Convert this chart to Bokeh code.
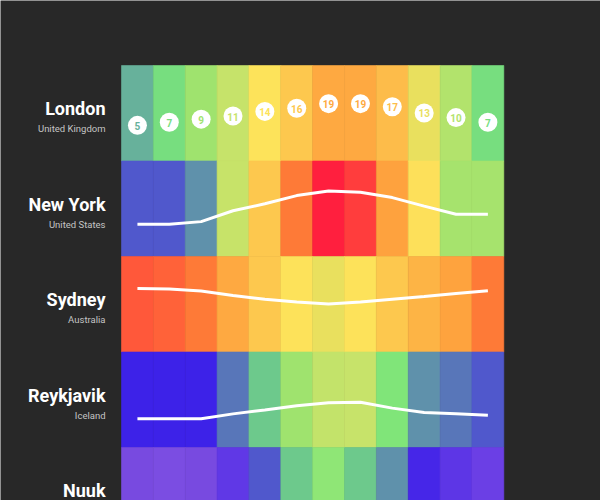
import numpy as np
from bokeh.plotting import figure
from bokeh.models import ColumnDataSource, LinearColorMapper, Range1d
from bokeh.transform import transform
from bokeh.core.properties import value
from bokeh.embed import file_html
from bokeh.resources import INLINE

# ---------------- data ----------------
months = ["Jan", "Feb", "Mar", "Apr", "May", "Jun",
          "Jul", "Aug", "Sep", "Oct", "Nov", "Dec"]
cities = ["London", "New York", "Sydney", "Reykjavik", "Nuuk"]
countries = ["United Kingdom", "United States", "Australia", "Iceland", "Greenland"]

london = [5, 7, 9, 11, 14, 16, 19, 19, 17, 13, 10, 7]
new_york = [2.8, 2.8, 4.5, 11.5, 16, 21.3, 24.3, 23.4, 20, 14.5, 9.3, 9.3]
sydney = [23, 22.6, 21.3, 18.5, 16, 14.2, 13, 14.2, 16, 17.8, 19.8, 21.5]
reykjavik = [0.5, 0.5, 0.5, 3.7, 6.2, 9, 10.8, 11.2, 7.4, 4.6, 3.7, 2.8]
nuuk = [-7.5, -8, -7.6, -4, 2.8, 6.2, 8.2, 6.2, 4.6, -1, -3.5, -6]

series = [london, new_york, sydney, reykjavik, nuuk]

# colour scale anchors (temperature -> colour)
anchor_t = [-8, -7.5, -6, -3.5, -1, 0.5, 2.8, 3.7, 4.6, 5, 6.2, 7.2, 8.2, 9, 10,
            11, 12, 13, 14, 14.6, 16, 17, 17.8, 18.5, 19, 20, 21.3, 21.6, 23, 23.4, 24.3]
anchor_c = ["#7b4de2", "#7749e0", "#6a3ee5", "#5d36e6", "#4626e8", "#3d22e8", "#5059cc",
            "#5878b8", "#5f93aa", "#67b09c", "#6dc98c", "#7be57a", "#8fe676", "#a0e36e",
            "#b2e36c", "#c6e36a", "#c8e369", "#e8e05e", "#fde35a", "#fde05a", "#fdc94e",
            "#fdbd4a", "#fdb545", "#fea941", "#fea941", "#fea23e", "#fe7a37", "#fe7a37",
            "#ff5a3a", "#ff3d3d", "#ff1f3e"]

# ---------------- layout constants ----------------
BG = "#282828"
W, H = 600, 500
GRID_LEFT_PX = 121
COL_PX = 31.86
GRID_TOP_PX = 65
ROW_PX = 95.5
PX_PER_DEG = 1.55
ROW_TOP_T = 67.6 / PX_PER_DEG          # temperature at the top edge of a row
ROW_SPAN = ROW_PX / PX_PER_DEG          # degrees covered by one row
FONT = value("Roboto")

x_start = -GRID_LEFT_PX / COL_PX
x_end = (W - GRID_LEFT_PX) / COL_PX
y_end = ROW_TOP_T + GRID_TOP_PX / PX_PER_DEG
y_start = y_end - H / PX_PER_DEG

# palette from anchors
lo, hi = anchor_t[0], anchor_t[-1]
rgb = np.array([[int(c[i:i + 2], 16) for i in (1, 3, 5)] for c in anchor_c], dtype=float)
vals = np.linspace(lo, hi, 256)
palette = []
for v in vals:
    r = np.interp(v, anchor_t, rgb[:, 0])
    g = np.interp(v, anchor_t, rgb[:, 1])
    b = np.interp(v, anchor_t, rgb[:, 2])
    palette.append("#%02x%02x%02x" % (int(round(r)), int(round(g)), int(round(b))))
mapper = LinearColorMapper(palette=palette, low=lo, high=hi)

# ---------------- figure ----------------
p = figure(width=W, height=H, x_range=Range1d(x_start, x_end), y_range=Range1d(y_start, y_end),
           toolbar_location=None, output_backend="svg", min_border=0,
           background_fill_color=BG, border_fill_color=BG, outline_line_color=None,
           x_axis_location=None, y_axis_location=None)
p.grid.visible = False

# cells
left, right, top, bottom, temp = [], [], [], [], []
for k, s in enumerate(series):
    for m, t in enumerate(s):
        left.append(m)
        right.append(m + 1)
        top.append(ROW_TOP_T - ROW_SPAN * k)
        bottom.append(ROW_TOP_T - ROW_SPAN * (k + 1))
        temp.append(t)
cells = ColumnDataSource(dict(left=left, right=right, top=top, bottom=bottom, temp=temp))
p.quad(left="left", right="right", top="top", bottom="bottom", source=cells,
       fill_color=transform("temp", mapper), line_color=transform("temp", mapper),
       line_width=0.6)

# lines for all rows except the first
xs = [m + 0.5 for m in range(12)]
for k, s in enumerate(series):
    if k == 0:
        continue
    p.line(x=xs, y=[t - ROW_SPAN * k for t in s], line_color="white", line_width=3)

# London circles with labels
lsrc = ColumnDataSource(dict(x=xs, y=london, temp=london, label=[str(v) for v in london]))
p.scatter(x="x", y="y", source=lsrc, size=19, fill_color="white", line_color=None)
p.text(x="x", y="y", text="label", source=lsrc, text_color=transform("temp", mapper),
       text_align="center", text_baseline="middle", text_font_size="10px",
       text_font_style="bold", y_offset=0.5, text_font=FONT)

# city and country labels (only those whose rows are visible in the window)
row_tops = [ROW_TOP_T - ROW_SPAN * k for k in range(len(cities))]
lab = ColumnDataSource(dict(x=[0] * len(cities), y=row_tops, city=cities))
p.text(x="x", y="y", text="city", source=lab, x_offset=-16, y_offset=43,
       text_align="right", text_baseline="alphabetic", text_color="white",
       text_font_size="18px", text_font_style="bold", text_font=FONT)
vis = [k for k in range(len(countries)) if GRID_TOP_PX + ROW_PX * k + 66 < H]
clab = ColumnDataSource(dict(x=[0] * len(vis), y=[row_tops[k] for k in vis],
                             country=[countries[k] for k in vis]))
p.text(x="x", y="y", text="country", source=clab, x_offset=-16, y_offset=63,
       text_align="right", text_baseline="alphabetic", text_color="#c4c4c4",
       text_font_size="9.5px", text_font=FONT)

open("out.html", "w").write(file_html(p, INLINE))
